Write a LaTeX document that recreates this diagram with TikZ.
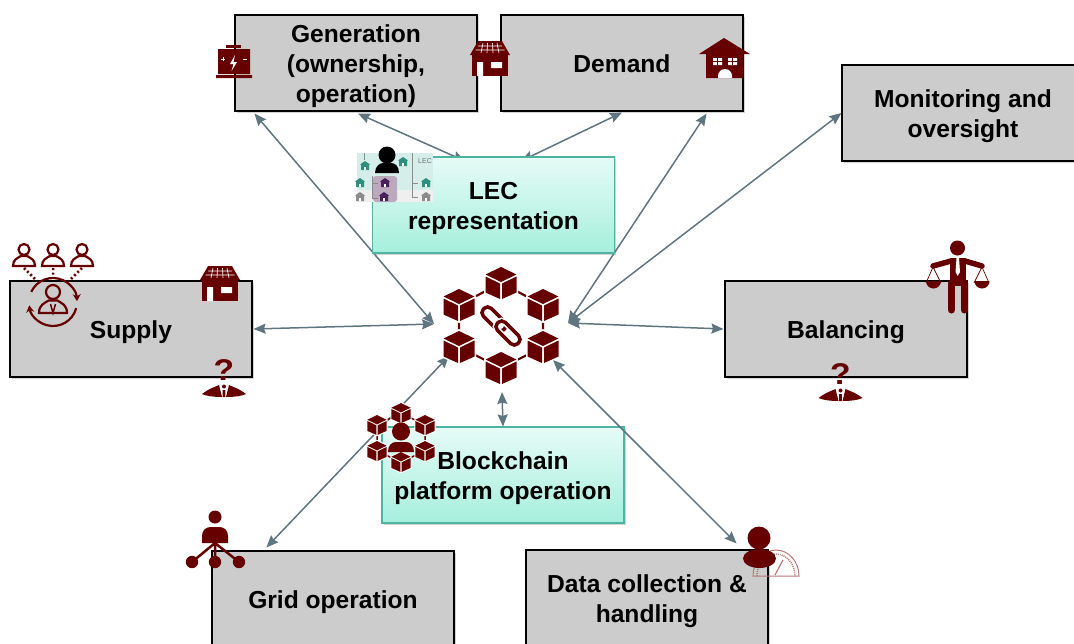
\documentclass[tikz,border=0pt]{standalone}
\usepackage{fontspec}
\setmainfont{Liberation Sans}
\usetikzlibrary{arrows.meta,shadows}

\definecolor{boxgray}{HTML}{CCCCCC}
\definecolor{iconred}{HTML}{660000}
\definecolor{linkgray}{HTML}{5F7580}
\definecolor{lecedge}{HTML}{4FB3A4}
\definecolor{lectop}{HTML}{E6FBF6}
\definecolor{lecbot}{HTML}{A6EFDC}
\definecolor{mapmint}{HTML}{D6EEE9}
\definecolor{mapgray}{HTML}{EFEFEF}
\definecolor{mapteal}{HTML}{2E8F7E}
\definecolor{mapdark}{HTML}{4A1F5A}
\definecolor{mapstone}{HTML}{8C8C8C}
\definecolor{mapmauve}{HTML}{BBA9BE}
\definecolor{gaugered}{HTML}{B87878}

\newcommand{\topgap}{\rule{0pt}{24pt}}

\tikzset{
  plainbox/.style={draw=black,line width=1.1pt,fill=boxgray,minimum width=242pt,minimum height=96pt,
    inner sep=0pt,align=center,font=\fontsize{24.6}{30}\selectfont\bfseries,text depth=6pt,
    execute at begin node={\rule{0pt}{24pt}},
    drop shadow={shadow xshift=1.5pt,shadow yshift=-2pt,opacity=.35}},
  lecbox/.style={plainbox,draw=lecedge,top color=lectop,bottom color=lecbot},
  dual/.style={<->,>={Stealth[length=12pt,width=10pt,inset=1.5pt]},draw=linkgray,line width=1.5pt},
  pics/cube/.style={code={
    \fill [white] (0,-18) -- (17,-9.5) -- (17,10.5) -- (0,18) -- (-17,10.5) -- (-17,-9.5) -- cycle;
    \fill [iconred] (0,-16) -- (15.5,-8.5) -- (0,-1) -- (-15.5,-8.5) -- cycle;
    \fill [iconred] (-15.5,-6.5) -- (-1,0.5) -- (-1,16) -- (-15.5,9.5) -- cycle;
    \fill [iconred] (15.5,-6.5) -- (1,0.5) -- (1,16) -- (15.5,9.5) -- cycle;
  }},
  pics/solarshop/.style={code={
    \fill [iconred] (-12,-17) -- (12,-17) -- (20,-3) -- (-20,-3) -- cycle;
    \fill [iconred] (-18,-3) rectangle (18,18);
    \draw [white,line width=.6pt] (-12,-12) -- (12,-12) (-14.5,-8) -- (14.5,-8)
      (-7,-15) -- (-9,-5) (-2.5,-15) -- (-3,-5) (2.5,-15) -- (3,-5) (7,-15) -- (9,-5);
    \fill [white] (-13,4) rectangle (-7,18) (1,4) rectangle (12,10);
  }},
  pics/whatman/.style={code={
    \node (mark) at (0,-14) [xscale=1.12,transform shape,text=iconred,inner sep=0pt,font=\fontsize{30}{30}\selectfont\bfseries] {?};
    \fill [iconred] (-22,10) .. controls (-14,4) and (-9,3) .. (-5,1) -- (-2,13)
      .. controls (-10,13) and (-18,12) .. (-22,10) -- cycle;
    \fill [iconred] (22,10) .. controls (14,4) and (9,3) .. (5,1) -- (2,13)
      .. controls (10,13) and (18,12) .. (22,10) -- cycle;
    \fill [iconred] (0,2.5) circle (2) (-1.3,6) rectangle (1.3,13);
  }},
  pics/outlineman/.style={code={
    \draw [iconred,line width=2.2pt] (0,-5) circle (5);
    \draw [iconred,line width=2.2pt] (-10,10) .. controls (-10,4) and (-6,3) .. (-3,1) -- (3,1)
      .. controls (6,3) and (10,4) .. (10,10) -- cycle;
  }},
  pics/tinyhouse/.style={code={
    \fill [#1] (0,-5) -- (5,-1.5) -- (4,-1.5) -- (4,4) -- (-4,4) -- (-4,-1.5) -- (-5,-1.5) -- cycle;
    \fill [white] (-1.2,1) rectangle (1.2,4);
  }},
}

\begin{document}
\begin{tikzpicture}[x=1pt,y=-1pt]
  \useasboundingbox (0,0) rectangle (1074,643);
  \clip (0,0) rectangle (1074,643);

  \node [plainbox] (gen) at (356,63) {\topgap Generation\\(ownership,\\operation)};
  \node [plainbox] (dem) at (622,63) {Demand};
  \node [plainbox] (mon) at (963,113) {\topgap Monitoring and\\oversight};
  \node [plainbox] (sup) at (131,329) {Supply};
  \node [plainbox] (bal) at (846,329) {Balancing};
  \node [plainbox] (gri) at (333,599) {Grid operation};
  \node [plainbox] (dat) at (647,598) {\topgap Data collection \&\\handling};
  \node [lecbox] (pla) at (503,475) {\topgap Blockchain\\platform operation};

  \coordinate (hubnw) at (434,324);
  \coordinate (hubne) at (568,323);
  \coordinate (hubsw) at (449,356);
  \coordinate (hubse) at (553,360);
  \coordinate (hubs) at (502,392);
  \coordinate (lecl) at (465,161);
  \coordinate (lecr) at (521,161);

  \draw [dual] ([shift={(20,2)}]gen.south west) -- (hubnw);
  \draw [dual] ([shift={(2,2)}]gen.south) -- (lecl);
  \draw [dual] ([yshift=-1pt]dem.south) -- (lecr);
  \draw [dual] ([shift={(-37,2)}]dem.south east) -- (hubne);
  \draw [dual] (mon.west) -- (hubne);
  \draw [dual] ([shift={(1,0)}]sup.east) -- (hubnw);
  \draw [dual] ([shift={(-1,0)}]bal.west) -- (hubne);
  \draw [dual] ([shift={(55,-3)}]gri.north west) -- (hubsw);
  \draw [dual] ([shift={(-32,-6)}]dat.north east) -- (hubse);
  \draw [dual] (pla.north) -- (hubs);
  \node [lecbox] (lec) at (493.5,205) {\topgap LEC\\representation};

  % blockchain in the middle
  \draw [iconred,line width=2.2pt] (501,283) -- (543,305) -- (543,347) -- (501,368) -- (459,347) -- (459,305) -- cycle;
  \pic at (501,283) {cube};
  \pic at (459,305) {cube};
  \pic at (543,305) {cube};
  \pic at (459,347) {cube};
  \pic at (543,347) {cube};
  \pic at (501,368) {cube};
  \draw [iconred,line width=3.5pt,rounded corners=5pt,rotate around={-45:(494,319)}]
    (479.5,313.5) rectangle (508.5,324.5);
  \draw [white,line width=6.5pt,rounded corners=5pt,rotate around={-45:(508,333)}]
    (493.5,327.5) rectangle (522.5,338.5);
  \draw [iconred,line width=3.5pt,rounded corners=5pt,rotate around={-45:(508,333)}]
    (493.5,327.5) rectangle (522.5,338.5);

  % icons on the generation and demand boxes
  \fill [iconred] (226,45) rectangle (241,48);
  \fill [iconred] (218,49) rectangle (250,74) (216,75) rectangle (252,78);
  \draw [white,line width=1pt] (221,59) -- (225,59) (223,57) -- (223,61) (243,59) -- (247,59);
  \fill [white] (235,55) -- (230,64) -- (233.5,64) -- (231.5,71) -- (237,62) -- (233.5,62) -- cycle;
  \pic at (490,58) {solarshop};
  \fill [iconred] (724,38) -- (750,54) -- (743,54) -- (743,78) -- (706,78) -- (706,54) -- (699,54) -- cycle;
  \fill [white] (713,58) rectangle (722,65) (728,58) rectangle (737,65);
  \draw [iconred,line width=.6pt] (713,61.5) -- (737,61.5) (717.5,58) -- (717.5,65) (732.5,58) -- (732.5,65);
  \fill [white] (718,78) -- (718,76) arc (180:360:7) -- (732,78) -- cycle;

  % supply icons
  \pic [scale=1.1] at (24,255) {outlineman};
  \pic [scale=1.1] at (53,255) {outlineman};
  \pic [scale=1.1] at (82,255) {outlineman};
  \draw [iconred,line width=2.5pt,dash pattern=on 2pt off 2.5pt] (24,268) -- (37,281) (53,268) -- (53,277) (82,268) -- (69,281);
  \pic [scale=1.4] at (53,299) {outlineman};
  \draw [iconred,line width=1.5pt] (50.5,304) -- (53,313) -- (55.5,304);
  \draw [iconred,line width=2.2pt,->,>={Stealth[length=7pt,width=8pt]}] (53,302) ++(205:24) arc (205:358:24);
  \draw [iconred,line width=2.2pt,->,>={Stealth[length=7pt,width=8pt]}] (53,302) ++(15:24) arc (15:172:24);
  \pic at (220,283) {solarshop};
  \pic (qsup) at (224,384) {whatman};

  % balancing icons
  \pic (qbal) at (840.5,388) {whatman};
  \fill [iconred] (957.5,248) circle (7.5);
  \fill [iconred] (950,258) rectangle (965.5,286);
  \draw [iconred,line width=5.5pt,line cap=round] (933,266) -- (951,261) (965,261) -- (982,266);
  \draw [iconred,line width=7pt,line cap=round] (951.5,283) -- (951.5,310) (964,283) -- (964,310);
  \fill [white] (956.5,258) -- (959,258) -- (960,272) -- (957.7,276) -- (955.5,272) -- cycle;
  \draw [iconred,line width=.7pt] (926,283) -- (933,267) -- (941,283) (974,283) -- (982,267) -- (989,283);
  \fill [iconred] (926,281) arc (180:360:7.5 and -7.5) -- cycle;
  \fill [iconred] (974.5,281) arc (180:360:7.5 and -7.5) -- cycle;

  % LEC picture
  \fill [mapmint] (357,153) rectangle (433,190);
  \fill [mapgray] (357,190) rectangle (433,202);
  \fill [mapmauve,rounded corners=3pt] (373,176) rectangle (397,202);
  \draw [mapstone,line width=.5pt] (364,153) -- (364,160) (372,176) -- (372,198) -- (378,198)
    (372,183) -- (378,183) (412,153) -- (412,197) -- (418,197) (412,183) -- (418,183);
  \pic at (365,166) {tinyhouse=mapteal};
  \pic at (403,162) {tinyhouse=mapteal};
  \pic at (426,183) {tinyhouse=mapteal};
  \pic at (426,197) {tinyhouse=mapstone};
  \pic at (360,183) {tinyhouse=mapteal};
  \pic at (360,197) {tinyhouse=mapstone};
  \pic at (385,183) {tinyhouse=mapdark};
  \pic at (384,197) {tinyhouse=mapdark};
  \node (mapname) at (425,161) [text=mapstone!80!black,inner sep=0pt,font=\fontsize{7}{8}\selectfont] {LEC};
  \fill [black] (387,155) circle (8.5);
  \fill [black] (375,173) .. controls (375,166) and (380,163) .. (383,163) -- (391,163)
    .. controls (395,163) and (399,166) .. (399,173) -- cycle;

  % blockchain operator
  \draw [iconred,line width=1.5pt] (401,413) -- (425,425) -- (425,451) -- (401,462) -- (377,451) -- (377,425) -- cycle;
  \pic [scale=.62] at (401,413) {cube};
  \pic [scale=.62] at (377,425) {cube};
  \pic [scale=.62] at (425,425) {cube};
  \pic [scale=.62] at (377,451) {cube};
  \pic [scale=.62] at (425,451) {cube};
  \pic [scale=.62] at (401,462) {cube};
  \fill [iconred] (401,431.5) circle (9);
  \fill [iconred] (388,452) .. controls (388,445) and (392,442) .. (396,442) -- (406,442)
    .. controls (410,442) and (414,445) .. (414,452) -- cycle;

  % grid operator
  \fill [iconred] (215,517) circle (6.5);
  \fill [iconred] (202,543) -- (202,536) .. controls (202,530) and (206,527) .. (211,527) -- (219,527)
    .. controls (224,527) and (228,530) .. (228,536) -- (228,543) -- cycle;
  \draw [iconred,line width=2.5pt] (192,562) -- (215,543) -- (239,562) (215,543) -- (215,562);
  \fill [iconred] (192,562) circle (6.2) (215,562) circle (6.2) (239,562) circle (6.2);

  % data collection
  \draw [gaugered,line width=1pt] (753,576) arc (180:360:23 and 26) -- cycle;
  \draw [gaugered,line width=1.5pt,dash pattern=on 1pt off 1pt] (757,576) arc (180:360:19 and 22);
  \draw [gaugered,line width=1.2pt] (775,575) -- (783,560);
  \fill [iconred] (759,538) circle (11.5);
  \fill [iconred] (759.5,558.5) ellipse (16.5 and 9.5);
\end{tikzpicture}
\end{document}
